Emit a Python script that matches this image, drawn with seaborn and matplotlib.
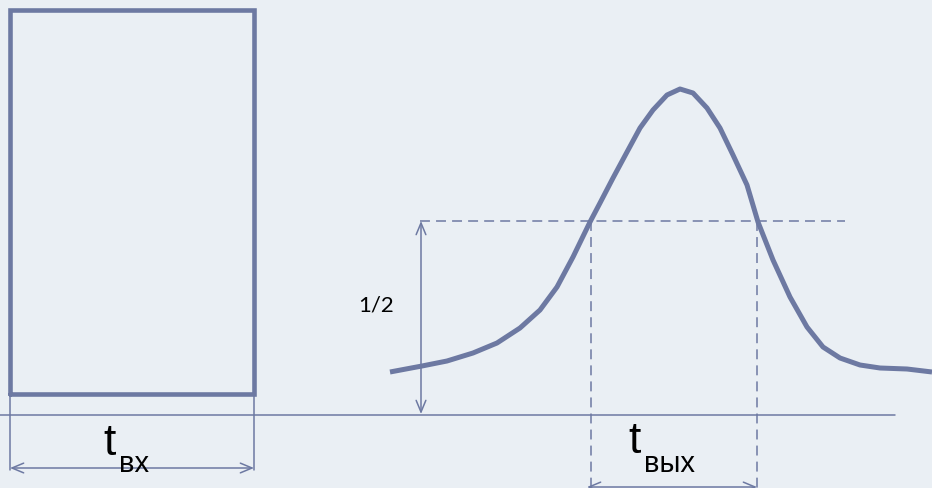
import matplotlib
matplotlib.use("Agg")
import matplotlib.pyplot as plt
import seaborn as sns
import pandas as pd

sns.set_style("white")
plt.rcParams['font.family'] = ['Liberation Sans', 'DejaVu Sans']

# all coordinates in picture units (x right, y down)
rect_x = [10, 10, 254, 254, 10]
rect_y = [394, 10, 10, 394, 394]

curve_x = [390, 422, 447, 473, 497, 520, 540, 557, 573, 590, 600, 613, 627, 640,
           653, 667, 680, 693, 707, 720, 733, 747, 758, 773, 790, 807, 823, 840,
           860, 880, 907, 932]
curve_y = [372, 366, 361, 353, 343, 328, 310, 287, 257, 222, 203, 178, 152, 128,
           110, 95, 89, 93, 108, 128, 155, 185, 222, 260, 297, 327, 347, 358,
           365, 368, 369, 372]

base_y = 415
base_x = [0, 895]
half_y = 221
half_x = [420, 845]
half_arrow_x = 421
width_in = [10, 254]
width_out = [591, 757]

line_col = '#6D79A2'
bg = '#EAEFF4'

fig = plt.figure(figsize=(9.32, 4.88), dpi=100, facecolor=bg)
ax = fig.add_axes([0, 0, 1, 1])
ax.set_facecolor(bg)

rect = pd.DataFrame({'x': rect_x, 'y': rect_y})
sns.lineplot(data=rect, x='x', y='y', sort=False, estimator=None,
             color=line_col, lw=3.3, ax=ax)
ax.lines[-1].set_solid_joinstyle('miter')

curve = pd.DataFrame({'x': curve_x, 'y': curve_y})
sns.lineplot(data=curve, x='x', y='y', sort=False, estimator=None,
             color=line_col, lw=3.6, ax=ax)
ax.lines[-1].set_solid_capstyle('butt')
ax.lines[-1].set_solid_joinstyle('round')

# baseline
ax.plot(base_x, [base_y, base_y], color=line_col, lw=1.1)
# half-height dashed line and output width dashed verticals
dash = (0, (6.5, 4))
ax.plot(half_x, [half_y, half_y], color=line_col, lw=1.1, ls=dash)
for xv in width_out:
    ax.plot([xv, xv], [half_y, 488], color=line_col, lw=1.1, ls=dash)
# input width extension lines
for xv in width_in:
    ax.plot([xv, xv], [394, 470], color=line_col, lw=1.1)

arrow = dict(arrowstyle='<->,head_length=0.6,head_width=0.25', color=line_col,
             lw=1.1, shrinkA=0, shrinkB=0, mutation_scale=14)
ax.annotate('', xy=(width_in[0], 468), xytext=(width_in[1], 468), arrowprops=arrow)
ax.annotate('', xy=(width_out[0] - 4, 487), xytext=(width_out[1], 487),
            arrowprops=arrow, annotation_clip=False)
ax.annotate('', xy=(half_arrow_x, half_y), xytext=(half_arrow_x, base_y - 1),
            arrowprops=arrow)

ax.text(376, 305, '1/2', fontsize=16, ha='center', va='center', color='black',
        family=['Lato', 'DejaVu Sans'])
ax.text(103, 455, 't', fontsize=32, ha='left', va='baseline', color='black')
ax.text(119, 472, 'вх', fontsize=21, ha='left', va='baseline', color='black')
ax.text(628, 453, 't', fontsize=32, ha='left', va='baseline', color='black')
ax.text(644, 472, 'вых', fontsize=21, ha='left', va='baseline', color='black')

ax.set_xlim(0, 932)
ax.set_ylim(488, 0)
ax.set_axis_off()
ax.get_legend() and ax.get_legend().remove()

fig.savefig('out.png', dpi=100, facecolor=bg)
